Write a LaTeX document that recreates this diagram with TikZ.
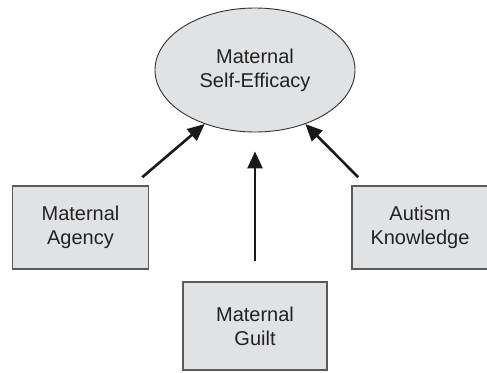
\documentclass[tikz,border=0pt]{standalone}
\usepackage{fontspec}
\setmainfont{Liberation Sans}
\usetikzlibrary{shapes.geometric,arrows.meta}
\definecolor{boxfill}{HTML}{E1E2E4}
\definecolor{boxline}{HTML}{5A5A5A}
\definecolor{inktext}{HTML}{222222}
\tikzset{
  factor/.style={draw=boxline, line width=1.6pt, fill=boxfill, rectangle,
    minimum width=136pt, minimum height=83pt, align=center,
    font=\fontsize{20}{24}\selectfont, text=inktext},
  outcome/.style={draw=black!80, line width=0.9pt, fill=boxfill, ellipse,
    minimum width=200pt, minimum height=124pt, inner sep=0pt, align=center,
    font=\fontsize{20}{24}\selectfont, text=inktext},
  arr/.style={-{Triangle[length=17pt,width=15pt]}, line width=2.6pt, draw=black!90}
}
\begin{document}
\begin{tikzpicture}[x=1pt,y=1pt]
\useasboundingbox (0,0) rectangle (487,-372);
\node[outcome] (eff) at (255,-70) {Maternal\\Self-Efficacy};
\node[factor] (agency) at (80.5,-227.5) {Maternal\\Agency};
\node[factor, minimum width=144pt, minimum height=88pt] (guilt) at (255,-326) {Maternal\\Guilt};
\node[factor] (know) at (420,-227.5) {Autism\\Knowledge};

\draw[arr] ([xshift=-7pt,yshift=8pt]agency.north east) -- (eff.227);
\draw[arr] ([yshift=20pt]guilt.north) -- ([yshift=-19pt]eff.south);
\draw[arr] ([xshift=7pt,yshift=8pt]know.north west) -- (eff.313);
\end{tikzpicture}
\end{document}
